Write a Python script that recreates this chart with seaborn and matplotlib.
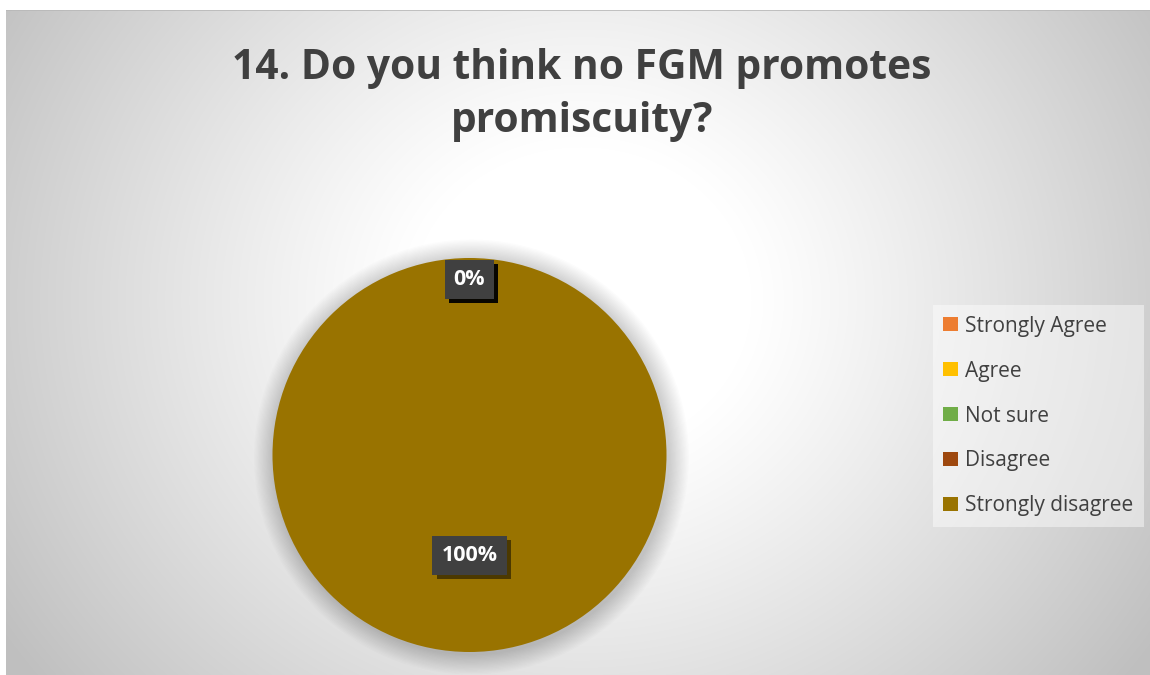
import numpy as np
import matplotlib
matplotlib.use("Agg")
import matplotlib.pyplot as plt
import matplotlib.patheffects as pe
from matplotlib.patches import Circle, Rectangle
import seaborn as sns

# Survey responses (percent of respondents)
categories = ["Strongly Agree", "Agree", "Not sure", "Disagree", "Strongly disagree"]
shares = [0, 0, 0, 0, 100]
title_text = "14. Do you think no FGM promotes\npromiscuity?"

sns.set_theme(style="white")
palette = sns.color_palette(["#ED7D31", "#FFC000", "#70AD47", "#9E480E", "#997300"])
plt.rcParams["font.family"] = ["Open Sans", "DejaVu Sans"]

W, H = 1150, 675
fig = plt.figure(figsize=(W / 100, H / 100), dpi=100)
fig.patch.set_facecolor("white")

# Chart area with radial gradient background
bg = fig.add_axes([6 / W, 0, (W - 6) / W, (H - 10) / H])
bg.set_axis_off()
yy, xx = np.mgrid[0:665, 0:1144]
cx, cy = 575, 290
d = np.sqrt((xx - cx) ** 2 + ((yy - cy) / 0.9) ** 2)
t = np.clip((d - 170) / 520, 0, 1) ** 1.1
shade = 1.0 - 0.25 * t
img = np.dstack([shade, shade, shade])
bg.imshow(img, aspect="auto", extent=(0, 1, 0, 1), origin="upper", interpolation="bilinear")
bg.set_xlim(0, 1)
bg.set_ylim(0, 1)
bg.axhline(1, color="#b8b8b8", lw=1.2)

# Title
fig.text(582 / W, 1 - 95 / H, title_text, ha="center", va="center",
         fontsize=29.3, fontweight="bold", color="#404040", linespacing=1.4)

# Pie axes
pcx, pcy, r = 469.5, 455, 197
ax = fig.add_axes([(pcx - r) / W, (H - pcy - r) / H, 2 * r / W, 2 * r / H])
ax.set_axis_off()

wedges, _ = ax.pie(shares, colors=palette, startangle=90, counterclock=False,
                   radius=1.0, wedgeprops=dict(linewidth=0))
for w in wedges:
    w.set_zorder(2)
ax.set_xlim(-1, 1)
ax.set_ylim(-1, 1)
ax.set_aspect("equal")

# Soft shadow around the pie
for k in range(16):
    rad = 1.0 + 0.0065 * (16 - k)
    ax.add_patch(Circle((0.01, -0.01), rad, color="black", alpha=0.011, lw=0,
                        zorder=0, clip_on=False))

# Data labels
total = sum(shares)
start = 90.0
for val in shares:
    span = 360.0 * val / total
    mid = np.deg2rad(start - span / 2)
    dist = 0.89 if val == 0 else 0.51
    txt = ax.text(dist * np.cos(mid), dist * np.sin(mid), f"{val:.0f}%",
                  ha="center", va="center", fontsize=15.5, fontweight="bold",
                  color="white", zorder=5,
                  bbox=dict(boxstyle="square,pad=0.42", fc="#404040", ec="none"))
    txt.get_bbox_patch().set_path_effects(
        [pe.SimplePatchShadow(offset=(3, -3), shadow_rgbFace="black", alpha=0.5), pe.Normal()])
    start -= span

# Legend
handles = [Rectangle((0, 0), 1, 1, fc=c, ec="none") for c in palette]
leg = fig.legend(handles, categories, loc="center left",
                 bbox_to_anchor=(933 / W, 1 - 416 / H), frameon=True,
                 fontsize=15, labelcolor="#404040", handlelength=0.68,
                 handleheight=0.68, handletextpad=0.35, labelspacing=1.15,
                 borderpad=0.5, borderaxespad=0, fancybox=False)
leg.get_frame().set_facecolor("white")
leg.get_frame().set_alpha(0.45)
leg.get_frame().set_edgecolor("none")

fig.savefig("out.png", dpi=100)
